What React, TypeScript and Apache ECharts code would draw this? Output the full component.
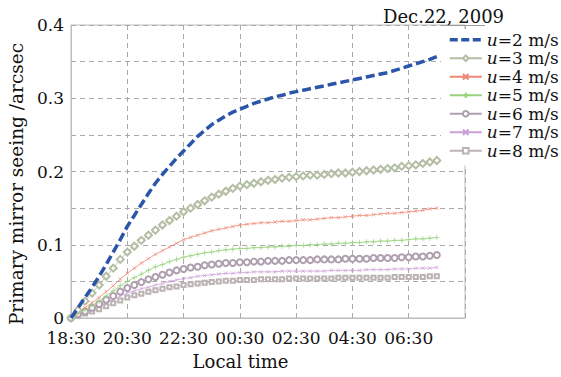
import React, { useEffect, useRef } from "react";
import * as echarts from "echarts";

// sample times, hours after 18:30 (15-min steps)
const hours: number[] = Array.from({ length: 53 }, (_, i) => i * 0.25);

const xTickLabels = ["18:30", "20:30", "22:30", "00:30", "02:30", "04:30", "06:30"];

const seriesNames = ["u=2 m/s", "u=3 m/s", "u=4 m/s", "u=5 m/s", "u=6 m/s", "u=7 m/s", "u=8 m/s"];

const u2 = [0, 0.014, 0.028, 0.042, 0.057, 0.073, 0.09, 0.107, 0.125, 0.14, 0.155, 0.17, 0.184, 0.196, 0.207, 0.218, 0.228, 0.238, 0.248, 0.256, 0.264, 0.27, 0.276, 0.281, 0.285, 0.289, 0.293, 0.296, 0.299, 0.302, 0.304, 0.307, 0.309, 0.311, 0.313, 0.315, 0.317, 0.319, 0.321, 0.323, 0.325, 0.327, 0.329, 0.331, 0.333, 0.335, 0.338, 0.341, 0.344, 0.347, 0.35, 0.353, 0.357];
const u3 = [0, 0.011, 0.023, 0.034, 0.045, 0.057, 0.068, 0.08, 0.09, 0.098, 0.106, 0.113, 0.12, 0.127, 0.133, 0.139, 0.145, 0.15, 0.155, 0.16, 0.165, 0.169, 0.173, 0.177, 0.18, 0.182, 0.184, 0.186, 0.188, 0.189, 0.191, 0.192, 0.193, 0.194, 0.195, 0.195, 0.196, 0.197, 0.198, 0.198, 0.199, 0.2, 0.201, 0.202, 0.203, 0.204, 0.205, 0.207, 0.208, 0.209, 0.211, 0.213, 0.215];
const u4 = [0, 0.007, 0.014, 0.021, 0.028, 0.036, 0.044, 0.053, 0.061, 0.068, 0.075, 0.081, 0.087, 0.092, 0.097, 0.102, 0.107, 0.11, 0.113, 0.116, 0.119, 0.121, 0.123, 0.125, 0.127, 0.128, 0.129, 0.13, 0.13, 0.131, 0.132, 0.132, 0.133, 0.134, 0.134, 0.135, 0.136, 0.137, 0.137, 0.138, 0.139, 0.14, 0.14, 0.141, 0.142, 0.143, 0.143, 0.144, 0.145, 0.146, 0.147, 0.149, 0.15];
const u5 = [0, 0.006, 0.011, 0.017, 0.023, 0.03, 0.037, 0.044, 0.05, 0.055, 0.06, 0.065, 0.07, 0.073, 0.077, 0.08, 0.083, 0.085, 0.087, 0.089, 0.09, 0.092, 0.093, 0.094, 0.095, 0.095, 0.096, 0.096, 0.097, 0.097, 0.098, 0.098, 0.099, 0.099, 0.1, 0.1, 0.101, 0.101, 0.102, 0.102, 0.103, 0.103, 0.104, 0.104, 0.105, 0.105, 0.106, 0.106, 0.107, 0.108, 0.108, 0.109, 0.11];
const u6 = [0, 0.005, 0.009, 0.014, 0.019, 0.025, 0.03, 0.036, 0.041, 0.045, 0.049, 0.053, 0.056, 0.059, 0.062, 0.065, 0.067, 0.069, 0.07, 0.072, 0.073, 0.074, 0.075, 0.075, 0.076, 0.076, 0.077, 0.077, 0.078, 0.078, 0.078, 0.079, 0.079, 0.079, 0.079, 0.08, 0.08, 0.08, 0.08, 0.081, 0.081, 0.081, 0.081, 0.082, 0.082, 0.082, 0.082, 0.083, 0.083, 0.084, 0.084, 0.085, 0.086];
const u7 = [0, 0.004, 0.008, 0.012, 0.016, 0.021, 0.025, 0.03, 0.034, 0.037, 0.04, 0.042, 0.045, 0.047, 0.05, 0.052, 0.054, 0.055, 0.057, 0.058, 0.059, 0.06, 0.061, 0.061, 0.062, 0.062, 0.063, 0.063, 0.063, 0.063, 0.064, 0.064, 0.064, 0.064, 0.064, 0.064, 0.064, 0.065, 0.065, 0.065, 0.065, 0.065, 0.066, 0.066, 0.066, 0.066, 0.067, 0.067, 0.067, 0.068, 0.068, 0.068, 0.069];
const u8 = [0, 0.003, 0.006, 0.009, 0.012, 0.016, 0.02, 0.024, 0.028, 0.031, 0.033, 0.036, 0.038, 0.04, 0.042, 0.043, 0.045, 0.046, 0.047, 0.048, 0.049, 0.05, 0.051, 0.051, 0.052, 0.052, 0.052, 0.053, 0.053, 0.053, 0.053, 0.054, 0.054, 0.054, 0.054, 0.054, 0.054, 0.054, 0.055, 0.055, 0.055, 0.055, 0.055, 0.055, 0.055, 0.055, 0.056, 0.056, 0.056, 0.056, 0.056, 0.057, 0.057];

const FONT = "DejaVu Serif";
const GRID_LINE = { color: "#a9a9a9", width: 1, type: [5, 4] as number[] };

const CROSS = "path://M0,0L10,10M10,0L0,10";
const PLUS = "path://M5,0L5,10M0,5L10,5";

function pairs(vals: number[]) {
  return vals.map((v, i) => [hours[i], v]);
}

function markerSeries(name: string, vals: number[], color: string, symbol: string, size: number, z: number) {
  return {
    name,
    type: "line",
    data: pairs(vals),
    symbol,
    symbolSize: size,
    showSymbol: true,
    showAllSymbol: true,
    z,
    lineStyle: { color, width: 0.8 },
    itemStyle: { color, borderColor: color, borderWidth: 0.7 },
  };
}

export default function App() {
  const ref = useRef<HTMLDivElement>(null);
  useEffect(() => {
    if (!ref.current) return;
    const chart = echarts.init(ref.current, undefined, { renderer: "svg" });
    const series: any[] = [
      markerSeries(seriesNames[6], u8, "#bcb3b3", "emptyRect", 4, 2),
      markerSeries(seriesNames[5], u7, "#cc9fd6", CROSS, 3.5, 3),
      markerSeries(seriesNames[4], u6, "#ae9fae", "emptyCircle", 6, 4),
      markerSeries(seriesNames[3], u5, "#98d27c", PLUS, 5.5, 5),
      markerSeries(seriesNames[2], u4, "#ef8876", CROSS, 3.5, 6),
      markerSeries(seriesNames[1], u3, "#b3bea5", "emptyDiamond", 7, 7),
      {
        name: seriesNames[0],
        type: "line",
        data: pairs(u2),
        symbol: "circle",
        showSymbol: false,
        z: 10,
        lineStyle: { color: "#2a55a8", width: 3.5, type: [9, 4] },
        itemStyle: { color: "#2a55a8", opacity: 0 },
      },
    ];
    chart.setOption({
      animation: false,
      backgroundColor: "#ffffff",
      textStyle: { fontFamily: FONT, color: "#111" },
      title: {
        text: "Dec.22, 2009",
        left: 378,
        top: 2,
        textStyle: { fontFamily: FONT, fontSize: 18, fontWeight: "normal", color: "#111" },
      },
      grid: {
        left: 71,
        right: 96,
        top: 25,
        bottom: 59,
        show: true,
        borderColor: "#bdbdbd",
        borderWidth: 1,
        backgroundColor: "transparent",
      },
      legend: {
        orient: "vertical",
        left: 441,
        top: 29,
        padding: [2, 2, 6, 7],
        backgroundColor: "#ffffff",
        itemWidth: 32,
        itemHeight: 7,
        itemGap: 1,
        data: [
          {
            name: seriesNames[0],
            itemStyle: { opacity: 0 },
            lineStyle: { width: 3.5, type: [8, 3.5], color: "#2a55a8" },
          },
          ...seriesNames.slice(1),
        ],
        textStyle: {
          fontFamily: FONT,
          fontSize: 17,
          color: "#111",
          lineHeight: 17.5,
          rich: {
            i: { fontFamily: FONT, fontSize: 17, fontStyle: "italic", color: "#111" },
            n: { fontFamily: FONT, fontSize: 17, color: "#111" },
          },
        },
        formatter: (name: string) => `{i|u}{n|${name.slice(1)}}`,
      },
      xAxis: {
        type: "value",
        min: 0,
        max: 14,
        interval: 2,
        axisLine: { show: true, lineStyle: { color: "#bdbdbd", width: 1 } },
        axisTick: { show: false },
        axisLabel: {
          fontFamily: FONT,
          fontSize: 17,
          color: "#111",
          margin: 11,
          formatter: (v: number) => {
            const i = Math.round(v / 2);
            return i < xTickLabels.length ? xTickLabels[i] : "";
          },
        },
        splitLine: { show: true, lineStyle: GRID_LINE },
      },
      yAxis: {
        type: "value",
        min: 0,
        max: 0.4,
        interval: 0.05,
        axisLine: { show: true, lineStyle: { color: "#bdbdbd", width: 1 } },
        axisTick: { show: false },
        axisLabel: {
          fontFamily: FONT,
          fontSize: 17,
          color: "#111",
          margin: 7,
          formatter: (v: number) => {
            const k = Math.round(v * 100);
            if (k % 10 !== 0) return "";
            return k === 0 ? "0" : (k / 100).toFixed(1);
          },
        },
        splitLine: { show: true, lineStyle: GRID_LINE },
      },
      graphic: [
        {
          type: "line",
          z: 100,
          shape: { x1: 441, y1: 25.5, x2: 485, y2: 25.5 },
          style: { stroke: "#9a9a9a", lineWidth: 1 },
        },
        {
          type: "text",
          x: 240.5,
          y: 361,
          style: {
            text: "Local time",
            fontFamily: FONT,
            fontSize: 18,
            fill: "#111",
            align: "center",
            verticalAlign: "middle",
          },
        },
        {
          type: "text",
          x: 16,
          y: 184,
          rotation: Math.PI / 2,
          style: {
            text: "Primary mirror seeing /arcsec",
            fontFamily: FONT,
            fontSize: 18.5,
            fill: "#111",
            align: "center",
            verticalAlign: "middle",
          },
        },
      ],
      series,
    });
    return () => chart.dispose();
  }, []);
  return (
    <div
      ref={ref}
      style={{ position: "fixed", left: 0, top: 0, width: 561, height: 377 }}
    />
  );
}
